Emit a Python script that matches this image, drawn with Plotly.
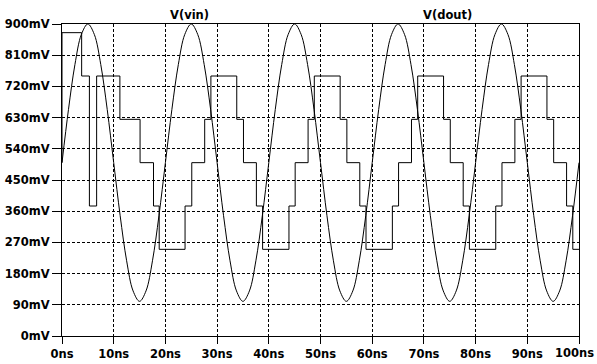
import plotly.graph_objects as go

# V(vin): sampled every 1.25 ns over 0..100 ns, in mV
vin_t_ns = [i * 1.25 for i in range(81)]
vin_mv = [
    500, 653, 783, 870, 900, 870, 783, 653, 500, 347, 217, 130, 100, 130, 217, 347,
    500, 653, 783, 870, 900, 870, 783, 653, 500, 347, 217, 130, 100, 130, 217, 347,
    500, 653, 783, 870, 900, 870, 783, 653, 500, 347, 217, 130, 100, 130, 217, 347,
    500, 653, 783, 870, 900, 870, 783, 653, 500, 347, 217, 130, 100, 130, 217, 347,
    500, 653, 783, 870, 900, 870, 783, 653, 500, 347, 217, 130, 100, 130, 217, 347,
    500,
]

# V(dout): step output, switching times (ns) and the level held from each time (mV)
dout_t_ns = [
    0, 0, 3.8, 5.3, 6.7, 11.2, 15.1, 17.7, 18.8,
    23.8, 25.1, 27.6, 28.8, 33.8, 35.1, 37.6, 38.8,
    43.9, 45.1, 47.6, 48.8, 53.8, 55.1, 57.6, 58.8,
    63.9, 65.1, 67.6, 68.8, 73.8, 75.1, 77.6, 78.8,
    83.9, 85.1, 87.6, 88.8, 93.8, 95.1, 97.6, 98.8,
    100,
]
dout_mv = [
    500, 875, 750, 375, 750, 625, 500, 375, 250,
    375, 500, 625, 750, 625, 500, 375, 250,
    375, 500, 625, 750, 625, 500, 375, 250,
    375, 500, 625, 750, 625, 500, 375, 250,
    375, 500, 625, 750, 625, 500, 375, 250,
    250,
]

x_ticks = list(range(0, 101, 10))
x_tick_labels = [f"{v}ns" for v in x_ticks]
y_ticks = list(range(0, 901, 90))
y_tick_labels = [f"{v}mV" for v in y_ticks]

FONT = dict(family="DejaVu Sans", size=11.5, color="black", weight="bold")

fig = go.Figure()
fig.add_trace(go.Scatter(
    x=vin_t_ns, y=vin_mv, mode="lines", name="V(vin)",
    line=dict(color="black", width=1, shape="spline", smoothing=1.0),
))
fig.add_trace(go.Scatter(
    x=dout_t_ns, y=dout_mv, mode="lines", name="V(dout)",
    line=dict(color="black", width=1, shape="hv"),
))

axis_common = dict(
    showgrid=True, gridcolor="black", gridwidth=1, griddash="3px,2px",
    showline=True, linecolor="black", linewidth=1, mirror=True,
    ticks="outside", tickcolor="black", tickwidth=1,
    zeroline=False, tickfont=FONT, fixedrange=True,
)

# the last time label sits at the right edge; it is placed as an annotation
# pulled in slightly so it stays inside the page
last_label = x_tick_labels[-1]
x_tick_text = x_tick_labels[:-1] + [""]

fig.update_layout(
    width=597, height=364,
    margin=dict(l=62, r=18, t=24, b=28, autoexpand=False),
    paper_bgcolor="white", plot_bgcolor="white",
    showlegend=False,
    xaxis=dict(range=[0, 100], tickvals=x_ticks, ticktext=x_tick_text,
               ticklen=7, **axis_common),
    yaxis=dict(range=[0, 900], tickvals=y_ticks, ticktext=y_tick_labels,
               ticklen=9, **axis_common),
    annotations=[
        dict(text="V(vin)", x=0.2466, y=1, xref="paper", yref="paper",
             xanchor="center", yanchor="bottom", showarrow=False, font=FONT),
        dict(text="V(dout)", x=0.7466, y=1, xref="paper", yref="paper",
             xanchor="center", yanchor="bottom", showarrow=False, font=FONT),
        dict(text=last_label, x=x_ticks[-1], y=0, xref="x", yref="paper",
             xanchor="right", yanchor="top", xshift=17, yshift=-8,
             showarrow=False, font=FONT),
    ],
)

fig.write_html("out.html")
